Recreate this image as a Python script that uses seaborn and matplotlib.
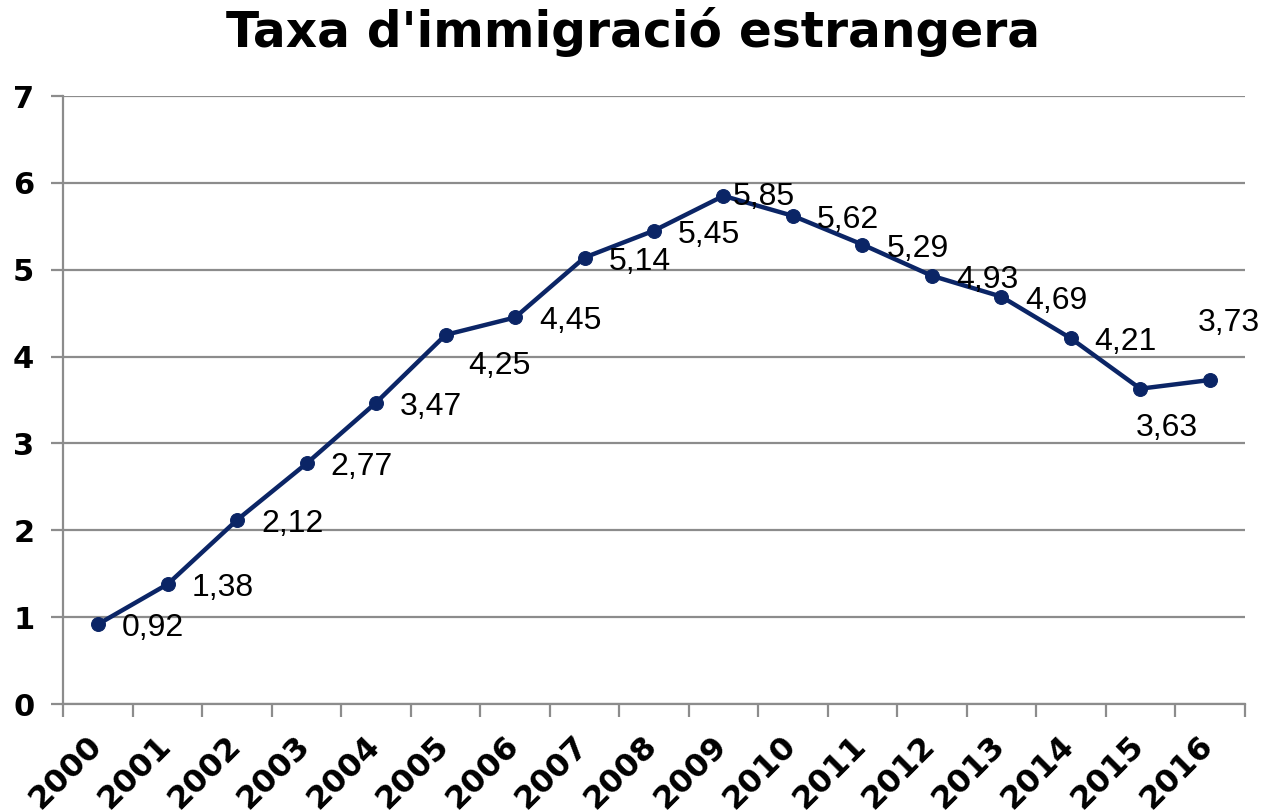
import matplotlib
matplotlib.use("Agg")
import matplotlib.pyplot as plt
import matplotlib.transforms as mtransforms
import seaborn as sns
import pandas as pd
import numpy as np

years = ["2000", "2001", "2002", "2003", "2004", "2005", "2006", "2007", "2008",
         "2009", "2010", "2011", "2012", "2013", "2014", "2015", "2016"]
rates = [0.92, 1.38, 2.12, 2.77, 3.47, 4.25, 4.45, 5.14, 5.45,
         5.85, 5.62, 5.29, 4.93, 4.69, 4.21, 3.63, 3.73]
y_ticks = [0, 1, 2, 3, 4, 5, 6, 7]
title = "Taxa d'immigració estrangera"

# label offsets in pixels (dx, dy downward positive)
label_offsets = [(55, 4)] * 17
label_offsets = list(label_offsets)
label_offsets[5] = (54, 31)
label_offsets[9] = (40, 1)
label_offsets[15] = (27, 39)
label_offsets[16] = (19, -57)

sns.set_theme(style="white")
plt.rcParams['font.family'] = ['DejaVu Sans']

LINE = "#0B2566"
GRID = "#8C8C8C"

fig = plt.figure(figsize=(12.64, 8.10), dpi=100)
ax = fig.add_axes([63.5/1264, 1 - 704/810, (1244.5 - 63.5)/1264, (704 - 96)/810])

df = pd.DataFrame({"idx": np.arange(len(years)), "rate": rates})
sns.lineplot(data=df, x="idx", y="rate", ax=ax, color=LINE, linewidth=3.2,
             marker="o", markersize=10, markeredgecolor=LINE, sort=False)

ax.set_xlim(-0.5, len(years) - 0.5)
ax.set_ylim(0, 7)
ax.set_yticks(y_ticks)
ax.set_yticklabels([str(v) for v in y_ticks], fontsize=22, fontweight="bold", color="black")
ax.grid(axis="y", color=GRID, linewidth=1.6)
ax.set_axisbelow(True)

ax.set_xticks(np.arange(-0.5, len(years), 1.0))
ax.set_xticklabels([])

# category labels, rotated 45 degrees, ending just right of each category centre
trans = mtransforms.blended_transform_factory(ax.transData, ax.transAxes) + \
    mtransforms.ScaledTranslation(-0.12, -0.26, fig.dpi_scale_trans)
for i, yr in enumerate(years):
    ax.text(i, 0, yr, transform=trans, rotation=45, ha="right", va="top",
            rotation_mode="anchor", fontsize=23, fontweight="bold", color="black",
            clip_on=False)

ax.tick_params(axis="x", which="major", length=9, width=1.6, color=GRID, bottom=True)
ax.tick_params(axis="y", which="major", length=9, width=1.6, color=GRID, left=True, pad=12)

for s in ["top", "right"]:
    ax.spines[s].set_visible(False)
for s in ["left", "bottom"]:
    ax.spines[s].set_color(GRID)
    ax.spines[s].set_linewidth(1.6)

ax.set_xlabel("")
ax.set_ylabel("")

for i, v in enumerate(rates):
    dx, dy = label_offsets[i]
    ax.annotate(f"{v:.2f}".replace(".", ","), (i, v), xytext=(dx * 0.72, -dy * 0.72),
                textcoords="offset points", ha="center", va="center",
                fontsize=23, family=["Liberation Sans"], color="black")

fig.text(633/1264, 1 - 32/810, title, ha="center", va="center",
         fontsize=35, fontweight="bold", color="black")

fig.savefig("out.png", dpi=100)
